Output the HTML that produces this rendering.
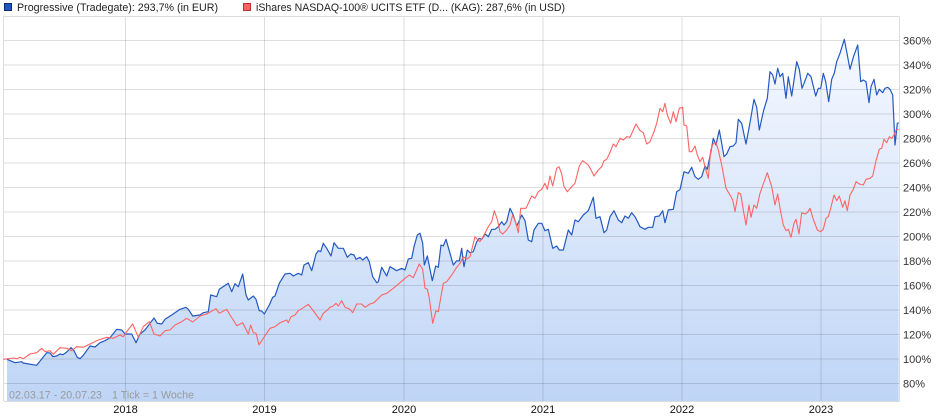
<!DOCTYPE html>
<html><head><meta charset="utf-8"><style>
html,body{margin:0;padding:0;background:#fff;}
svg{display:block;}
text{font-family:"Liberation Sans",Arial,sans-serif;}
</style></head><body>
<svg width="940" height="420" viewBox="0 0 940 420" xmlns="http://www.w3.org/2000/svg">
<defs>
<linearGradient id="g" gradientUnits="userSpaceOnUse" x1="0" y1="39" x2="0" y2="401">
<stop offset="0" stop-color="#f6f9ff"/>
<stop offset="1" stop-color="#bfd5f6"/>
</linearGradient>
</defs>
<!-- legend -->
<rect x="4.5" y="3.5" width="7" height="7" fill="#1f55c0" stroke="#0d2c6e" stroke-width="1"/>
<text x="17" y="11" font-size="11" fill="#222" textLength="201" lengthAdjust="spacingAndGlyphs">Progressive (Tradegate): 293,7% (in EUR)</text>
<rect x="243.5" y="3.5" width="7" height="7" fill="#ff6262" stroke="#b33" stroke-width="1"/>
<text x="256" y="11" font-size="11" fill="#222" textLength="309" lengthAdjust="spacingAndGlyphs">iShares NASDAQ-100® UCITS ETF (D... (KAG): 287,6% (in USD)</text>

<!-- fill -->
<polygon fill="url(#g)" points="7,359.3 15,362.7 21.7,361.7 23,363 36.7,365.3 46.7,352.7 50,353 53,356.7 56.7,356 60,354 63,354.7 66.7,352 71,347.7 74,350.7 77.3,357.3 80,358.7 83.3,355.3 90,346 95,347 100,342.7 105,340.7 110,337.7 116.7,329.3 121.7,330 125,334 131.7,334 136,342.7 140,334 145,330 150,323.3 154,318 157.3,323.3 161.7,324 165,319.3 171.7,315 180,309.3 186,307.3 188.3,309.3 192.7,316 200,315 203.3,312.7 208.3,311.7 210.7,295 216.7,296.7 219.3,289.3 228.3,283.3 231.7,291.7 235,283.7 238.3,286.7 242.7,274 246,295 248.3,300 253.3,296 256,299.3 259.3,310.7 261.7,311 264.3,314 269.3,305 272.7,297.3 275,296 279.3,283.3 285,274 290,273.3 293.3,276 298.3,273.3 301.7,275 304,265 308.3,262.7 311.7,270.7 316,254 318.3,250.7 320.7,251.7 323.3,243.3 326.7,248.3 331,256 334,242.7 338.3,248.3 343.3,248.3 347.3,257.3 350.7,254 354,255 356,259.3 360,257.3 362.7,260 366.7,256.7 369.3,261.7 372.7,276.7 376.7,282.7 378.3,281.7 381.7,267.3 386.7,276 390,266.7 396.7,270.7 401.7,268.3 405,270 408.3,259 411.7,258.3 414,246.7 417.3,235 420,233.3 422.7,243.3 424.3,265 427.3,256 432.3,280.7 435.7,266 438.3,267.3 441,245 443.3,246 446,239.3 450,253.3 453.3,265 456.7,260.7 459.3,261 461.7,248.3 463.3,262 464,266.7 467.3,250 470,252.7 473.3,251.7 476.7,241.7 479.3,238.3 481.7,239.3 485,234 488.3,236.7 491.7,229.3 495,229.3 498.3,226.7 501.7,221.7 504,225 506.7,221.7 510,208.3 513.3,215 516.7,226 518.3,222.7 521.7,215 525,220.7 528.3,240 531.7,241.7 534,230 538.3,223.3 541.7,223.3 545,230.7 548.3,229.3 552.7,248.3 556.7,246 559.3,250 563.3,250 568.3,230 571.7,235 575,220 578.3,221.7 583.3,215 588.3,210.7 593.3,197.3 596,218.3 600,216.7 604,232.7 606.7,230 610,216.7 614,210.7 618.3,220 621.7,222.7 625,216 628.3,218.3 631.7,212.7 635,216.7 640,226.7 645,229.3 648.3,227.3 652.7,227.3 655,216.7 659.3,216 662.7,210.7 665,222.7 668.3,210 673.3,209.3 676.7,191.7 680,189.5 684,171.7 688.3,173.3 691.7,167.3 695,176.7 698.3,179.3 701.7,176.7 705,166 707.3,169.3 710.7,152.7 713.3,138.3 716,145 719.3,130 721.7,143.3 724,156.7 726.7,154 730,146.7 733.3,146 736,142.7 738.3,119.3 741.7,123.3 746,144 750,122.7 754,99.3 756.7,107.3 759.3,130 763.3,111.7 767.3,98.3 770,71.7 772.7,75 775,84 777.7,68.3 780,76.7 782.7,73.3 786,98.3 788.3,76.7 791.7,96 796.7,61.7 799.3,69.3 802,88.3 804.7,81.7 807.7,73.3 811,76.7 815.7,96 818.3,88.3 820.7,88.3 823.3,73.3 825.7,81.7 828.7,101.7 831.7,79.3 834.3,73.3 836.7,61.7 840,53.3 844.3,39.3 847.3,55 850,69.3 853.3,57.3 857.7,45 860.7,81.7 863.3,80 866,81.7 869,102.7 871,86.7 874,79.3 876.7,95 879.3,89.3 882.7,92.7 885,88.3 887.7,87.3 890,89.3 892.7,95 895,145 897.3,123.3 898.7,122.7 898.7,401 7,401"/>

<!-- grid -->
<g stroke="rgba(0,0,0,0.13)" stroke-width="1" fill="none">
<line x1="3" y1="40.5" x2="899" y2="40.5"/>
<line x1="3" y1="65" x2="899" y2="65"/>
<line x1="3" y1="89.5" x2="899" y2="89.5"/>
<line x1="3" y1="114" x2="899" y2="114"/>
<line x1="3" y1="138.5" x2="899" y2="138.5"/>
<line x1="3" y1="163" x2="899" y2="163"/>
<line x1="3" y1="187.5" x2="899" y2="187.5"/>
<line x1="3" y1="212" x2="899" y2="212"/>
<line x1="3" y1="236.5" x2="899" y2="236.5"/>
<line x1="3" y1="261" x2="899" y2="261"/>
<line x1="3" y1="285.5" x2="899" y2="285.5"/>
<line x1="3" y1="310" x2="899" y2="310"/>
<line x1="3" y1="334.5" x2="899" y2="334.5"/>
<line x1="3" y1="359" x2="899" y2="359"/>
<line x1="3" y1="383.5" x2="899" y2="383.5"/>
<line x1="125.5" y1="16" x2="125.5" y2="401"/>
<line x1="264.5" y1="16" x2="264.5" y2="401"/>
<line x1="404" y1="16" x2="404" y2="401"/>
<line x1="543" y1="16" x2="543" y2="401"/>
<line x1="682" y1="16" x2="682" y2="401"/>
<line x1="821" y1="16" x2="821" y2="401"/>
</g>
<!-- frame -->
<g stroke="#dcdcdc" stroke-width="1" fill="none">
<line x1="3.5" y1="16.5" x2="899" y2="16.5"/>
<line x1="3.5" y1="16.5" x2="3.5" y2="401"/>
<line x1="899.5" y1="16.5" x2="899.5" y2="401.5"/>
<line x1="3.5" y1="401.5" x2="899.5" y2="401.5"/>
</g>

<!-- blue line -->
<polyline fill="none" stroke="#2459c2" stroke-width="1.2" stroke-linejoin="round" points="7,359.3 15,362.7 21.7,361.7 23,363 36.7,365.3 46.7,352.7 50,353 53,356.7 56.7,356 60,354 63,354.7 66.7,352 71,347.7 74,350.7 77.3,357.3 80,358.7 83.3,355.3 90,346 95,347 100,342.7 105,340.7 110,337.7 116.7,329.3 121.7,330 125,334 131.7,334 136,342.7 140,334 145,330 150,323.3 154,318 157.3,323.3 161.7,324 165,319.3 171.7,315 180,309.3 186,307.3 188.3,309.3 192.7,316 200,315 203.3,312.7 208.3,311.7 210.7,295 216.7,296.7 219.3,289.3 228.3,283.3 231.7,291.7 235,283.7 238.3,286.7 242.7,274 246,295 248.3,300 253.3,296 256,299.3 259.3,310.7 261.7,311 264.3,314 269.3,305 272.7,297.3 275,296 279.3,283.3 285,274 290,273.3 293.3,276 298.3,273.3 301.7,275 304,265 308.3,262.7 311.7,270.7 316,254 318.3,250.7 320.7,251.7 323.3,243.3 326.7,248.3 331,256 334,242.7 338.3,248.3 343.3,248.3 347.3,257.3 350.7,254 354,255 356,259.3 360,257.3 362.7,260 366.7,256.7 369.3,261.7 372.7,276.7 376.7,282.7 378.3,281.7 381.7,267.3 386.7,276 390,266.7 396.7,270.7 401.7,268.3 405,270 408.3,259 411.7,258.3 414,246.7 417.3,235 420,233.3 422.7,243.3 424.3,265 427.3,256 432.3,280.7 435.7,266 438.3,267.3 441,245 443.3,246 446,239.3 450,253.3 453.3,265 456.7,260.7 459.3,261 461.7,248.3 463.3,262 464,266.7 467.3,250 470,252.7 473.3,251.7 476.7,241.7 479.3,238.3 481.7,239.3 485,234 488.3,236.7 491.7,229.3 495,229.3 498.3,226.7 501.7,221.7 504,225 506.7,221.7 510,208.3 513.3,215 516.7,226 518.3,222.7 521.7,215 525,220.7 528.3,240 531.7,241.7 534,230 538.3,223.3 541.7,223.3 545,230.7 548.3,229.3 552.7,248.3 556.7,246 559.3,250 563.3,250 568.3,230 571.7,235 575,220 578.3,221.7 583.3,215 588.3,210.7 593.3,197.3 596,218.3 600,216.7 604,232.7 606.7,230 610,216.7 614,210.7 618.3,220 621.7,222.7 625,216 628.3,218.3 631.7,212.7 635,216.7 640,226.7 645,229.3 648.3,227.3 652.7,227.3 655,216.7 659.3,216 662.7,210.7 665,222.7 668.3,210 673.3,209.3 676.7,191.7 680,189.5 684,171.7 688.3,173.3 691.7,167.3 695,176.7 698.3,179.3 701.7,176.7 705,166 707.3,169.3 710.7,152.7 713.3,138.3 716,145 719.3,130 721.7,143.3 724,156.7 726.7,154 730,146.7 733.3,146 736,142.7 738.3,119.3 741.7,123.3 746,144 750,122.7 754,99.3 756.7,107.3 759.3,130 763.3,111.7 767.3,98.3 770,71.7 772.7,75 775,84 777.7,68.3 780,76.7 782.7,73.3 786,98.3 788.3,76.7 791.7,96 796.7,61.7 799.3,69.3 802,88.3 804.7,81.7 807.7,73.3 811,76.7 815.7,96 818.3,88.3 820.7,88.3 823.3,73.3 825.7,81.7 828.7,101.7 831.7,79.3 834.3,73.3 836.7,61.7 840,53.3 844.3,39.3 847.3,55 850,69.3 853.3,57.3 857.7,45 860.7,81.7 863.3,80 866,81.7 869,102.7 871,86.7 874,79.3 876.7,95 879.3,89.3 882.7,92.7 885,88.3 887.7,87.3 890,89.3 892.7,95 895,145 897.3,123.3 898.7,122.7"/>

<!-- red line -->
<polyline fill="none" stroke="#ff6464" stroke-width="1.1" stroke-linejoin="round" points="3.3,359.3 13.3,358 16.7,358.7 20,357.3 23.3,358.7 30,354 36.7,352.7 41.7,348.3 45,351.7 50,350.7 53.3,354.3 60,347.7 66.7,348.3 71.7,350.7 76.7,346.7 83.3,347.3 90,344 98.3,340 106.7,337.3 113.3,338.3 120,335 123.3,336.7 126.7,331.7 132.7,324 138.3,337.3 143.3,326.7 149.3,321.7 154,334 160,336 165,330.7 170,330 175,325 181.7,321.7 186.7,318.3 192.7,322 200,316 206.7,314 216,308.7 219.3,313.3 226.7,309.3 230,315 233.3,320 236.7,325.7 242.7,322.7 248.3,334 250.7,325 253.3,332.7 256,333.3 259,345 263.3,338.3 270,328.3 275,326.7 280,322.7 286.7,320 288.3,322.7 291,316.7 295,315 298.3,310.7 303.3,307.7 308.3,304.3 312.7,310 320,320 323.3,313.3 326.7,310.7 330,307.3 333.3,306 336,303.3 338.3,306 341.7,300.7 345,307.3 350,309.3 352.7,312.7 356.7,304 361.7,304 365,307.3 370,304 374,302.7 381.7,295 386.7,293.3 393.3,288.3 400,282.7 405,278.3 409.3,275 413.3,277.7 419.3,264 422.7,269.3 425,288.3 427.3,289.3 429.3,298.3 432.7,323.3 436,310.7 438.3,311.7 443.3,283.3 446.7,281.7 451.7,275 456.7,267.3 460,263.3 463.3,256.7 466.7,259.3 470,256.7 475,236.7 477.3,239.3 480,241.7 484,235 488.3,226.7 491.7,221.7 494.3,210.7 497.3,219.3 500,231.7 502.7,234 506.7,230 510,225 512.7,215 516,223.3 518.3,232.7 520.7,208.3 526,208.3 531.7,196 535,198.3 538.3,191.7 541.7,189.3 545,183.3 547.3,189.3 550,176 552.7,186 556.7,168.3 559,166.7 561.7,174 564,186.7 567.3,191.7 571.7,186.7 575,183.3 579.3,166 582.7,160.7 588.3,165 590.7,169.3 594,176 598.3,170 601.7,166.7 604,160.7 606.7,159.3 609.3,154 613.3,144 616,146.7 620,138.3 623.3,140 626.7,136.7 630,137.3 633.3,130 636,124 640,130.7 643.3,132.7 646.7,144 650,141.7 654,131.7 656.7,123.3 660,108.3 662.7,111.7 665,103.3 667.3,115 670.7,123.3 673.3,111.7 676,121.7 679.3,108.3 682.7,107.3 684,125 686.7,126 689.3,151.7 691.7,151.7 695,146 697.3,155 700,161.7 702.7,157.3 705,166.7 708.3,178.3 710.7,150 713.3,143.3 716,142.7 718.3,150 721.7,165 726,188.3 730,195 732.7,200 735,211.7 738.3,192.7 740.7,194 743.3,210 746,225 749,205 751,217.3 754,205 756.7,208.3 760,193.3 763.3,184 767.3,172.7 771.7,186.7 775,205 777.7,194 780,208.3 783.3,225 786,230.7 788.3,229.3 791,237.3 794,223.3 796,219.3 799,234 801.7,212.7 805,214 807.3,212.7 810,208.3 813.3,219.3 817.3,230 820.7,231.7 823.3,229.3 826,218.3 828.3,216.7 830.7,208.3 834,195 836.7,200.7 839.3,196 842.7,207.3 845,200.7 847.3,210.7 850,195 853.3,189.3 856,181.7 859.3,184 863.3,185 866,179.3 870,178.3 872.7,176 876,160.7 879.3,149.3 881.7,148.3 884,139.3 886.7,142.7 889.3,136.7 891.7,138.3 894,135 896,130 898.3,129.3"/>

<!-- y labels -->
<g font-size="11" fill="#333">
<text x="903" y="44.5">360%</text>
<text x="903" y="69">340%</text>
<text x="903" y="93.5">320%</text>
<text x="903" y="118">300%</text>
<text x="903" y="142.5">280%</text>
<text x="903" y="167">260%</text>
<text x="903" y="191.5">240%</text>
<text x="903" y="216">220%</text>
<text x="903" y="240.5">200%</text>
<text x="903" y="265">180%</text>
<text x="903" y="289.5">160%</text>
<text x="903" y="314">140%</text>
<text x="903" y="338.5">120%</text>
<text x="903" y="363">100%</text>
<text x="903" y="387.5">80%</text>
</g>
<!-- x labels -->
<g font-size="11" fill="#111" text-anchor="middle">
<text x="125.5" y="413">2018</text>
<text x="264.5" y="413">2019</text>
<text x="404" y="413">2020</text>
<text x="543" y="413">2021</text>
<text x="682" y="413">2022</text>
<text x="821" y="413">2023</text>
</g>
<text x="9" y="398.5" font-size="11" fill="#9a9a9a" textLength="93" lengthAdjust="spacingAndGlyphs">02.03.17 - 20.07.23</text>
<text x="112" y="398.5" font-size="11" fill="#9a9a9a" textLength="82" lengthAdjust="spacingAndGlyphs">1 Tick = 1 Woche</text>
</svg>
</body></html>
